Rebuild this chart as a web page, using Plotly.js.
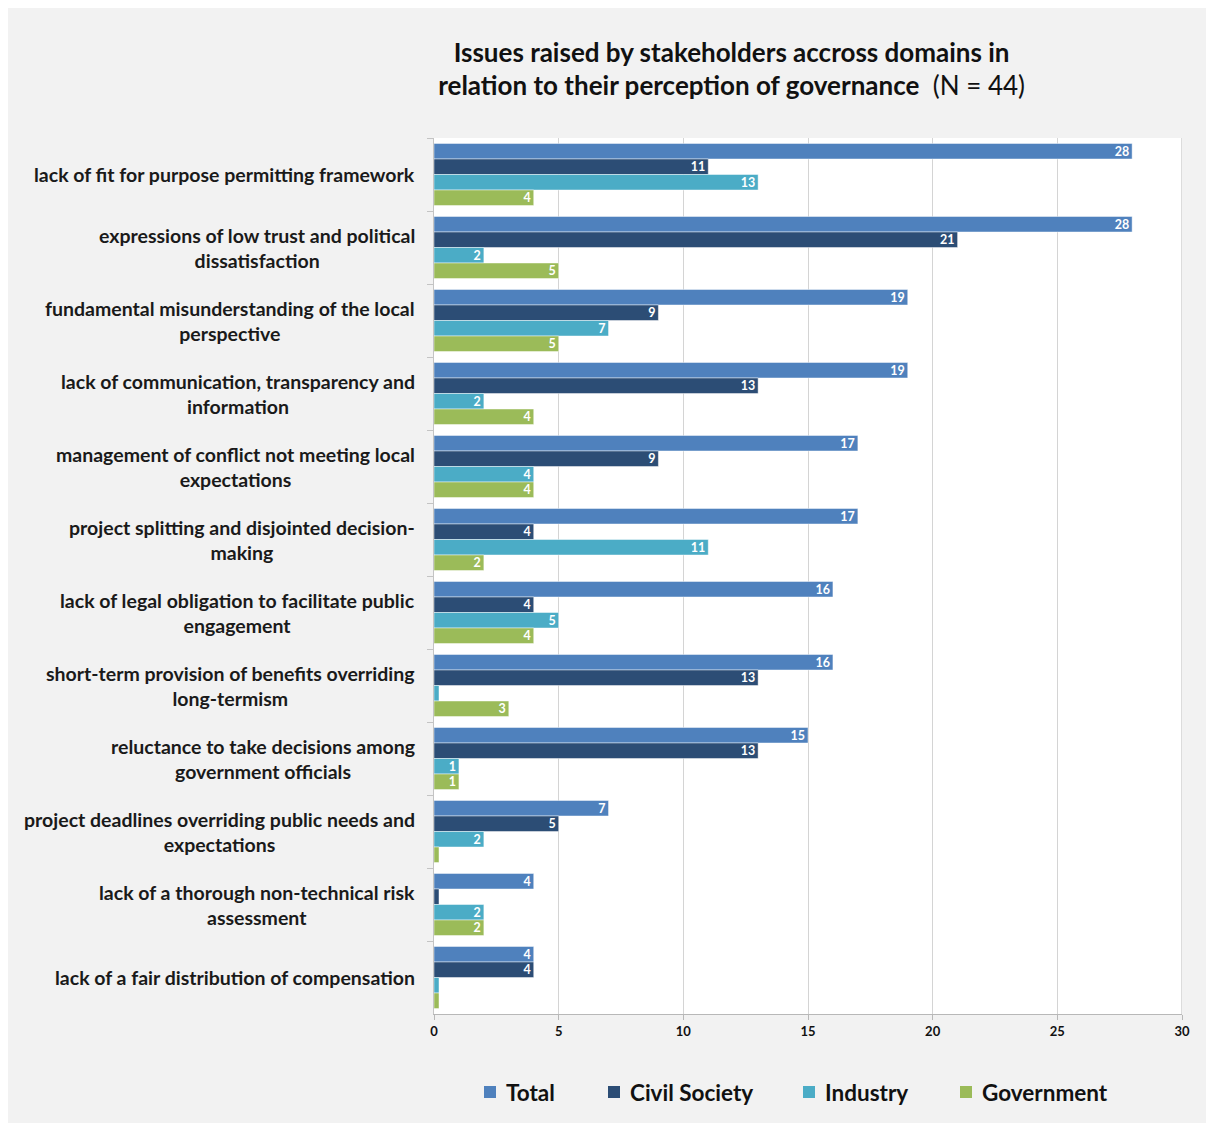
<!DOCTYPE html>
<html>
<head>
<meta charset="utf-8">
<script src="https://cdn.plot.ly/plotly-3.0.1.min.js"></script>
<style>
  html, body { margin: 0; padding: 0; background: #ffffff; }
  #chart { position: absolute; left: 8px; top: 8px; width: 1198px; height: 1115px; }
</style>
</head>
<body>
<div id="chart"></div>
<script>
const categories = [
  "lack of fit for purpose permitting framework",
  "expressions of low trust and political<br>dissatisfaction",
  "fundamental misunderstanding of the local<br>perspective",
  "lack of communication, transparency and<br>information",
  "management of conflict not meeting local<br>expectations",
  "project splitting and disjointed decision-<br>making",
  "lack of legal obligation to facilitate public<br>engagement",
  "short-term provision of benefits overriding<br>long-termism",
  "reluctance to take decisions among<br>government officials",
  "project deadlines overriding public needs and<br>expectations",
  "lack of a thorough non-technical risk<br>assessment",
  "lack of a fair distribution of compensation"
];
const total        = [28, 28, 19, 19, 17, 17, 16, 16, 15, 7, 4, 4];
const civilSociety = [11, 21, 9, 13, 9, 4, 4, 13, 13, 5, 0, 4];
const industry     = [13, 2, 7, 2, 4, 11, 5, 0, 1, 2, 2, 0];
const government   = [4, 5, 5, 4, 4, 2, 4, 3, 1, 0, 2, 0];

const seriesNames = ["Total", "Civil Society", "Industry", "Government"];
const seriesColors = ["#4f81bd", "#2c4d75", "#4bacc6", "#9bbb59"];
const seriesValues = [total, civilSociety, industry, government];

const ZERO_STUB = 0.2; // zero counts are drawn as a thin stub, like the original

const traces = seriesValues.map((vals, i) => ({
  type: "bar",
  orientation: "h",
  name: seriesNames[i],
  y: categories,
  x: vals.map(v => v === 0 ? ZERO_STUB : v),
  text: vals.map(v => v === 0 ? "" : String(v)),
  textposition: "inside",
  insidetextanchor: "end",
  textangle: 0,
  constraintext: "none",
  textfont: { family: "Lato", size: 12.5, color: "#ffffff", weight: "bold" },
  marker: { color: seriesColors[i], line: { color: "rgba(255,255,255,0.45)", width: 1 } },
  hoverinfo: "skip",
  showlegend: false
}));

const labelAnnotations = categories.map(c => ({
  xref: "paper", yref: "y",
  x: 0, y: c,
  xshift: -17,
  xanchor: "right", yanchor: "middle",
  align: "center",
  text: c,
  showarrow: false,
  font: { family: "Lato", size: 19.5, color: "#1a1a1a", weight: "bold" }
}));

// custom legend (plot area: left 426px, width 748px, bottom 1006px, height 876px in the div)
const PLOT_L = 426, PLOT_W = 748, PLOT_B = 1006, PLOT_H = 876;
const legendSquareLeft = [476, 600, 795, 952];
const legendMidY = 1084;
const px2x = p => (p - PLOT_L) / PLOT_W;
const px2y = p => (PLOT_B - p) / PLOT_H;

const legendShapes = seriesNames.map((n, i) => ({
  type: "rect", xref: "paper", yref: "paper",
  x0: px2x(legendSquareLeft[i]), x1: px2x(legendSquareLeft[i] + 12),
  y0: px2y(legendMidY + 6), y1: px2y(legendMidY - 6),
  fillcolor: seriesColors[i], line: { width: 0 }
}));
const legendAnnotations = seriesNames.map((n, i) => ({
  xref: "paper", yref: "paper",
  x: px2x(legendSquareLeft[i] + 20), y: px2y(legendMidY),
  xanchor: "left", yanchor: "middle",
  text: n, showarrow: false,
  font: { family: "Lato", size: 22.5, color: "#111111", weight: "bold" }
}));

const layout = {
  width: 1198, height: 1115,
  paper_bgcolor: "#f2f2f2",
  plot_bgcolor: "#ffffff",
  margin: { l: 426, r: 24, t: 130, b: 109 },
  barmode: "group",
  bargap: 0.15,
  bargroupgap: 0,
  showlegend: false,
  title: {
    text: "<b>Issues raised by stakeholders accross domains in</b><br><b>relation to their perception of governance</b>  (N = 44)",
    xref: "container", yref: "container",
    x: 0.604, xanchor: "center",
    y: 0.952, yanchor: "top",
    font: { family: "Lato", size: 26, color: "#111111" }
  },
  xaxis: {
    range: [0, 30],
    dtick: 5,
    tick0: 0,
    showgrid: true,
    gridcolor: "#d4d4d4",
    gridwidth: 1,
    zeroline: false,
    showline: true,
    linecolor: "#b8b8b8",
    ticks: "outside",
    ticklen: 5,
    tickcolor: "#b8b8b8",
    tickfont: { family: "Lato", size: 13, color: "#111111", weight: "bold" },
    fixedrange: true
  },
  yaxis: {
    type: "category",
    autorange: "reversed",
    showticklabels: false,
    tickson: "boundaries",
    ticks: "outside",
    ticklen: 6,
    tickcolor: "#c4c4c4",
    showgrid: false,
    showline: true,
    linecolor: "#c4c4c4",
    fixedrange: true
  },
  shapes: [{
    type: "line", xref: "x", yref: "paper",
    x0: 30, x1: 30, y0: 0, y1: 1,
    line: { color: "#b8b8b8", width: 1 }
  }].concat(legendShapes),
  annotations: labelAnnotations.concat(legendAnnotations)
};

Plotly.newPlot("chart", traces, layout, { displayModeBar: false, staticPlot: true });
</script>
</body>
</html>
